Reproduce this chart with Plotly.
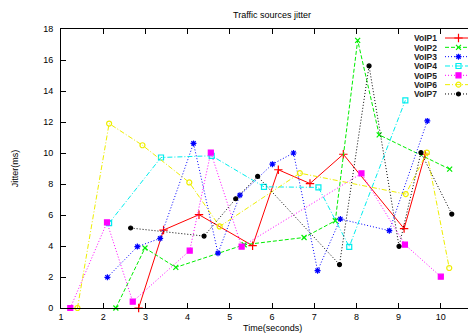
import plotly.graph_objects as go

# ---- data ----
names = ["VoIP1", "VoIP2", "VoIP3", "VoIP4", "VoIP5", "VoIP6", "VoIP7"]

x1 = [2.84, 3.43, 4.27, 5.54, 6.15, 6.90, 7.69, 9.13, 9.63]
y1 = [0.0, 5.03, 6.02, 4.02, 8.92, 8.03, 9.92, 5.12, 9.92]

x2 = [2.30, 2.99, 3.72, 5.34, 6.76, 7.50, 8.03, 8.54, 10.21]
y2 = [0.0, 3.87, 2.62, 4.08, 4.55, 5.63, 17.27, 11.17, 8.96]

x3 = [2.10, 2.81, 3.35, 4.14, 4.72, 5.24, 6.01, 6.51, 7.08, 7.62, 8.78, 9.68]
y3 = [1.98, 3.96, 4.49, 10.62, 3.54, 7.28, 9.28, 10.0, 2.41, 5.74, 4.99, 12.07]

x4 = [2.14, 3.37, 4.57, 5.81, 7.10, 7.83, 9.16]
y4 = [5.48, 9.71, 9.82, 7.82, 7.78, 3.95, 13.4]

x5 = [1.22, 2.09, 2.70, 4.05, 4.55, 5.28, 8.12, 9.15, 10.0]
y5 = [0.0, 5.52, 0.41, 3.70, 10.03, 3.96, 8.68, 4.09, 2.02]

x6 = [1.39, 2.14, 2.93, 4.04, 4.76, 6.66, 9.17, 9.67, 10.2]
y6 = [0.0, 11.9, 10.5, 8.1, 5.26, 8.70, 7.35, 10.03, 2.58]

x7 = [2.65, 4.39, 5.14, 5.66, 7.60, 8.30, 9.01, 9.53, 10.26]
y7 = [5.16, 4.64, 7.05, 8.49, 2.80, 15.62, 3.98, 10.03, 6.06]

xs = [x1, x2, x3, x4, x5, x6, x7]
ys = [y1, y2, y3, y4, y5, y6, y7]

x_ticks = list(range(1, 12))
y_ticks = list(range(0, 19, 2))

# ---- styles ----
colors = ["#ff0000", "#00ee00", "#0000ff", "#00eeee", "#ff00ff", "#eeee00", "#000000"]
dashes = ["solid", "4px,2px", "1px,2px", "5px,2px,1px,2px", "1px,2px", "5px,2px,1px,2px", "1px,2px"]
symbols = ["cross-thin-open", "x-thin-open", "asterisk-open", "square-open", "square", "circle-open", "circle"]
msizes = [6, 5, 5, 5, 5, 5, 4]

FONT = "Liberation Sans, Arial, Helvetica, sans-serif"

fig = go.Figure()
for i in range(7):
    fig.add_trace(go.Scatter(
        x=xs[i], y=ys[i], mode="lines+markers", name=names[i],
        line=dict(color=colors[i], width=1, dash=dashes[i]),
        marker=dict(symbol=symbols[i], size=msizes[i], color=colors[i],
                    line=dict(color=colors[i], width=1.2)),
        cliponaxis=False, showlegend=False,
    ))

# ---- gnuplot-style key (text then sample) in overlay axes ----
L, R, T, B = 53, 1, 21, 34
W, H = 476, 334
pw, ph = W - L - R, H - T - B

def px2x(p):
    return (p - L) / pw

def py2y(p):
    return (H - B - p) / ph

annotations = []
for i in range(7):
    ry = py2y(30 + 9.33 * i)
    fig.add_trace(go.Scatter(
        x=[px2x(437), px2x(450.5), px2x(464)], y=[ry, ry, ry],
        xaxis="x2", yaxis="y2", mode="lines",
        line=dict(color=colors[i], width=1, dash=dashes[i]),
        showlegend=False, hoverinfo="skip", cliponaxis=False,
    ))
    fig.add_trace(go.Scatter(
        x=[px2x(450.5)], y=[ry], xaxis="x2", yaxis="y2", mode="markers",
        marker=dict(symbol=symbols[i], size=msizes[i], color=colors[i],
                    line=dict(color=colors[i], width=1.2)),
        showlegend=False, hoverinfo="skip", cliponaxis=False,
    ))
    annotations.append(dict(
        text="<b>%s</b>" % names[i], x=px2x(431), y=ry, xref="paper", yref="paper",
        xanchor="right", yanchor="middle", showarrow=False, height=9,
        font=dict(family=FONT, size=8.5, color="#222222"),
    ))

annotations.append(dict(text="Time(seconds)", x=0.5, y=py2y(320), xref="paper", yref="paper",
                        xanchor="center", yanchor="middle", showarrow=False,
                        font=dict(family=FONT, size=9, color="#000000")))

axis_common = dict(
    showline=True, linecolor="#000000", linewidth=1, mirror="ticks",
    ticks="inside", ticklen=5, tickcolor="#000000", tickwidth=1,
    showgrid=False, zeroline=False,
    tickfont=dict(family=FONT, size=9, color="#000000"),
)

fig.update_layout(
    width=W, height=H,
    margin=dict(l=L, r=R, t=T, b=B, pad=0),
    paper_bgcolor="white", plot_bgcolor="white",
    title=dict(text="Traffic sources jitter", x=0.5, xref="paper", xanchor="center",
               y=1 - 7 / H, yanchor="middle",
               font=dict(family=FONT, size=9, color="#000000")),
    xaxis=dict(range=[1, 11], tickvals=x_ticks, ticktext=[str(v) for v in x_ticks], **axis_common),
    yaxis=dict(range=[0, 18], tickvals=y_ticks, ticktext=[str(v) for v in y_ticks],
               ticklabelstandoff=5,
               title=dict(text="Jitter(ms)", standoff=23,
                          font=dict(family=FONT, size=9, color="#000000")),
               automargin=False, **axis_common),
    xaxis2=dict(overlaying="x", range=[0, 1], visible=False, fixedrange=True),
    yaxis2=dict(overlaying="y", range=[0, 1], visible=False, fixedrange=True),
    annotations=annotations,
    showlegend=False,
)

fig.write_html("out.html")
